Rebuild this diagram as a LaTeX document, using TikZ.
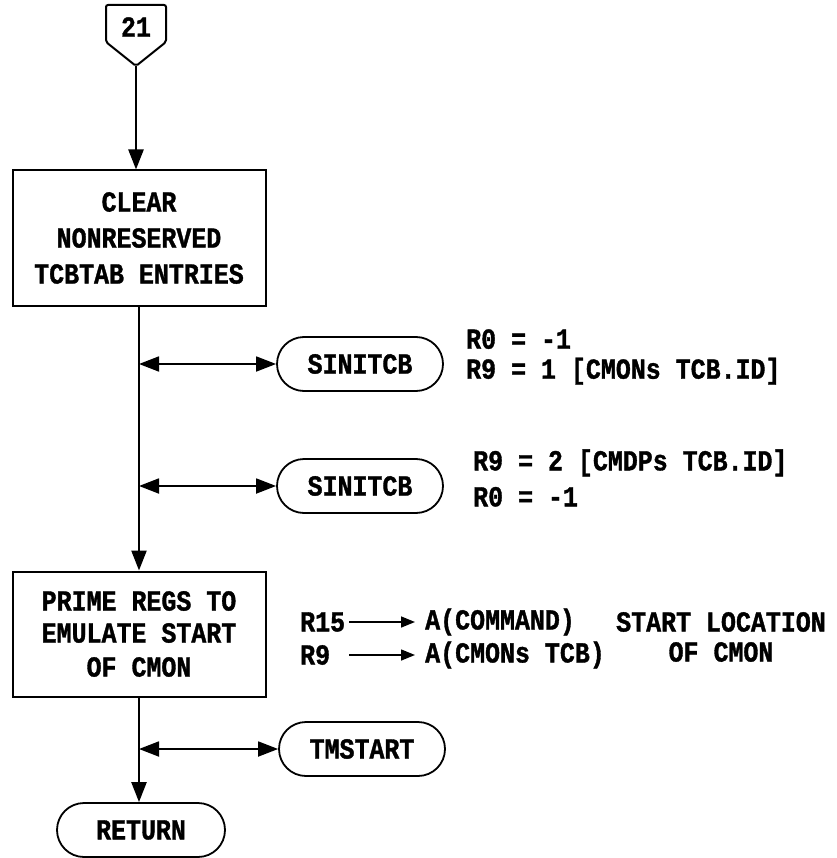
\documentclass[tikz,border=0pt]{standalone}
\usepackage{fontspec}
\setmonofont{Liberation Mono}[FakeStretch=0.86, BoldFeatures={FakeBold=1.2}]
\usetikzlibrary{arrows.meta,positioning,shapes.misc}

\begin{document}
\begin{tikzpicture}[
  x=1pt, y=-1pt,
  every node/.style={font=\ttfamily\bfseries\fontsize{29}{36}\selectfont, align=center, inner sep=0pt},
  box/.style={draw=black, line width=2pt, minimum width=253pt, minimum height=135pt},
  oval/.style={draw=black, line width=1.8pt, rounded rectangle, minimum width=166pt, minimum height=54pt},
  arr/.style={-{Triangle[length=20pt,width=15pt]}, line width=2.4pt},
  twoway/.style={{Triangle[length=20pt,width=15pt]}-{Triangle[length=20pt,width=15pt]}, line width=1.8pt},
  ptr/.style={-{Triangle[length=14pt,width=11pt]}, line width=1.5pt}
]
\useasboundingbox (0,0) rectangle (836,858);

% off-page connector
\node (conn) at (136,27) {21};
\draw[line width=2pt, rounded corners=2pt] (106,5) -- (166,5) -- (166,42) -- (136,66) -- (106,42) -- cycle;
\coordinate (connpt) at (136,66);

\node[box] (clear) at (139,238) {CLEAR\\NONRESERVED\\TCBTAB ENTRIES};
\node[oval] (sinit1) at (360,364) {SINITCB};
\node[oval] (sinit2) at (360,486) {SINITCB};
\node[box, minimum height=125pt] (prime) at (139,634) {PRIME REGS TO\\[-4pt]EMULATE START\\[-2pt]OF CMON};
\node[oval] (tmstart) at (362,749) {TMSTART};
\node[oval, minimum width=168pt] (ret) at (141,830) {RETURN};

% register notes
\node[anchor=west, align=left] (regs1) at (466,357) {R0 = -1\\[-6pt]R9 = 1 [CMONs TCB.ID]};
\node[anchor=west, align=left] (regs2) at (473,478) {R9 = 2 [CMDPs TCB.ID]\\R0 = -1};
\node[anchor=west] (r15) at (300,622) {R15};
\node[anchor=west] (r9) at (300,655) {R9};
\node[anchor=west] (acmd) at (425,622) {A(COMMAND)};
\node[anchor=west] (acmon) at (425,655) {A(CMONs TCB)};
\node (startloc) at (721,637) {START LOCATION\\[-6pt]OF CMON};

\draw[arr] (connpt) -- (connpt |- clear.north);
\draw[arr] (clear.south) -- (prime.north);
\draw[arr] (prime.south) -- (prime.south |- ret.north);
\draw[twoway] (clear.south |- sinit1) -- (sinit1.west);
\draw[twoway] (clear.south |- sinit2) -- (sinit2.west);
\draw[twoway] (prime.south |- tmstart) -- (tmstart.west);
\draw[ptr] ([xshift=4pt]r15.east) -- ([xshift=-10pt]r15.east -| acmd.west);
\draw[ptr] ([xshift=4pt]r15.east |- r9) -- ([xshift=-10pt]r9 -| acmon.west);
\end{tikzpicture}
\end{document}
